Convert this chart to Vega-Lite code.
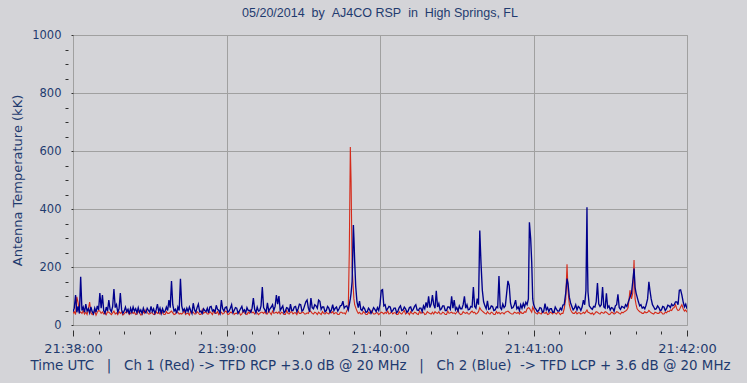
{
  "$schema": "https://vega.github.io/schema/vega-lite/v6.json",
  "width": 614,
  "height": 290,
  "autosize": {"type": "none"},
  "padding": {"left": 73, "top": 35, "right": 60, "bottom": 58},
  "background": "#d4d4d8",
  "config": {"view": {"stroke": "#a0a0a0", "fill": "#d4d4d8", "strokeWidth": 1}},
  "title": {"text": "05/20/2014\u00a0\u00a0by\u00a0\u00a0AJ4CO RSP\u00a0\u00a0in\u00a0\u00a0High Springs, FL", "font": "Liberation Sans", "fontSize": 12.5, "fontWeight": "normal", "color": "#1f3b6f", "anchor": "middle", "offset": 10},
  "data": {"values": [
{"t":0,"r":40,"b":46},{"t":0.5,"r":46,"b":58},{"t":1,"r":36,"b":103},{"t":1.5,"r":97,"b":44},{"t":2,"r":76,"b":64},{"t":2.5,"r":42,"b":40},{"t":3,"r":45,"b":166},{"t":3.5,"r":40,"b":50},{"t":4,"r":50,"b":62},{"t":4.5,"r":38,"b":44},{"t":5,"r":44,"b":72},{"t":5.5,"r":36,"b":48},{"t":6,"r":55,"b":56},{"t":6.5,"r":79,"b":42},{"t":7,"r":42,"b":62},{"t":7.5,"r":36,"b":46},{"t":8,"r":40,"b":38},{"t":8.5,"r":48,"b":58},{"t":9,"r":34,"b":44},{"t":9.5,"r":44,"b":66},
{"t":10,"r":50,"b":52},{"t":10.5,"r":48,"b":110},{"t":11,"r":40,"b":58},{"t":11.5,"r":45,"b":103},{"t":12,"r":38,"b":50},{"t":12.5,"r":42,"b":40},{"t":13,"r":36,"b":62},{"t":13.5,"r":46,"b":48},{"t":14,"r":44,"b":86},{"t":14.5,"r":40,"b":54},{"t":15,"r":36,"b":46},{"t":15.5,"r":42,"b":64},{"t":16,"r":48,"b":124},{"t":16.5,"r":38,"b":60},{"t":17,"r":42,"b":70},{"t":17.5,"r":36,"b":44},{"t":18,"r":46,"b":56},{"t":18.5,"r":40,"b":110},{"t":19,"r":45,"b":52},{"t":19.5,"r":34,"b":40},
{"t":20,"r":38,"b":48},{"t":20.5,"r":44,"b":62},{"t":21,"r":42,"b":46},{"t":21.5,"r":50,"b":54},{"t":22,"r":36,"b":38},{"t":22.5,"r":40,"b":58},{"t":23,"r":46,"b":44},{"t":23.5,"r":40,"b":62},{"t":24,"r":44,"b":48},{"t":24.5,"r":36,"b":56},{"t":25,"r":38,"b":42},{"t":25.5,"r":48,"b":60},{"t":26,"r":42,"b":44},{"t":26.5,"r":34,"b":52},{"t":27,"r":36,"b":40},{"t":27.5,"r":46,"b":58},{"t":28,"r":40,"b":46},{"t":28.5,"r":52,"b":42},{"t":29,"r":44,"b":58},{"t":29.5,"r":38,"b":50},
{"t":30,"r":38,"b":44},{"t":30.5,"r":42,"b":64},{"t":31,"r":42,"b":46},{"t":31.5,"r":36,"b":56},{"t":32,"r":36,"b":40},{"t":32.5,"r":46,"b":52},{"t":33,"r":40,"b":72},{"t":33.5,"r":44,"b":46},{"t":34,"r":38,"b":58},{"t":34.5,"r":50,"b":40},{"t":35,"r":42,"b":56},{"t":35.5,"r":36,"b":44},{"t":36,"r":36,"b":48},{"t":36.5,"r":46,"b":62},{"t":37,"r":40,"b":50},{"t":37.5,"r":40,"b":86},{"t":38,"r":44,"b":60},{"t":38.5,"r":48,"b":152},{"t":39,"r":42,"b":70},{"t":39.5,"r":36,"b":48},
{"t":40,"r":38,"b":54},{"t":40.5,"r":46,"b":40},{"t":41,"r":44,"b":62},{"t":41.5,"r":38,"b":50},{"t":42,"r":40,"b":159},{"t":42.5,"r":38,"b":66},{"t":43,"r":42,"b":48},{"t":43.5,"r":50,"b":56},{"t":44,"r":36,"b":44},{"t":44.5,"r":40,"b":58},{"t":45,"r":40,"b":46},{"t":45.5,"r":34,"b":62},{"t":46,"r":48,"b":50},{"t":46.5,"r":42,"b":40},{"t":47,"r":44,"b":75},{"t":47.5,"r":38,"b":52},{"t":48,"r":38,"b":44},{"t":48.5,"r":46,"b":60},{"t":49,"r":42,"b":72},{"t":49.5,"r":36,"b":46},
{"t":50,"r":36,"b":48},{"t":50.5,"r":52,"b":40},{"t":51,"r":40,"b":56},{"t":51.5,"r":44,"b":50},{"t":52,"r":44,"b":46},{"t":52.5,"r":38,"b":58},{"t":53,"r":38,"b":42},{"t":53.5,"r":46,"b":62},{"t":54,"r":42,"b":64},{"t":54.5,"r":36,"b":48},{"t":55,"r":50,"b":52},{"t":55.5,"r":40,"b":44},{"t":56,"r":40,"b":68},{"t":56.5,"r":46,"b":54},{"t":57,"r":36,"b":50},{"t":57.5,"r":42,"b":40},{"t":58,"r":44,"b":86},{"t":58.5,"r":38,"b":56},{"t":59,"r":40,"b":48},{"t":59.5,"r":48,"b":60},
{"t":60,"r":46,"b":62},{"t":60.5,"r":36,"b":44},{"t":61,"r":38,"b":48},{"t":61.5,"r":44,"b":58},{"t":62,"r":42,"b":70},{"t":62.5,"r":50,"b":42},{"t":63,"r":36,"b":50},{"t":63.5,"r":40,"b":60},{"t":64,"r":40,"b":58},{"t":64.5,"r":46,"b":40},{"t":65,"r":44,"b":48},{"t":65.5,"r":34,"b":56},{"t":66,"r":38,"b":64},{"t":66.5,"r":48,"b":46},{"t":67,"r":42,"b":52},{"t":67.5,"r":38,"b":42},{"t":68,"r":36,"b":60},{"t":68.5,"r":44,"b":50},{"t":69,"r":40,"b":50},{"t":69.5,"r":52,"b":44},
{"t":70,"r":42,"b":58},{"t":70.5,"r":44,"b":93},{"t":71,"r":38,"b":54},{"t":71.5,"r":46,"b":42},{"t":72,"r":42,"b":62},{"t":72.5,"r":36,"b":48},{"t":73,"r":40,"b":50},{"t":73.5,"r":44,"b":66},{"t":74,"r":44,"b":131},{"t":74.5,"r":40,"b":60},{"t":75,"r":46,"b":52},{"t":75.5,"r":38,"b":44},{"t":76,"r":38,"b":76},{"t":76.5,"r":50,"b":48},{"t":77,"r":42,"b":56},{"t":77.5,"r":36,"b":62},{"t":78,"r":48,"b":70},{"t":78.5,"r":40,"b":50},{"t":79,"r":42,"b":64},{"t":79.5,"r":44,"b":103},
{"t":80,"r":40,"b":72},{"t":80.5,"r":46,"b":100},{"t":81,"r":38,"b":50},{"t":81.5,"r":44,"b":58},{"t":82,"r":42,"b":66},{"t":82.5,"r":36,"b":42},{"t":83,"r":36,"b":48},{"t":83.5,"r":50,"b":60},{"t":84,"r":40,"b":58},{"t":84.5,"r":38,"b":44},{"t":85,"r":44,"b":72},{"t":85.5,"r":46,"b":50},{"t":86,"r":38,"b":50},{"t":86.5,"r":42,"b":62},{"t":87,"r":42,"b":64},{"t":87.5,"r":36,"b":46},{"t":88,"r":48,"b":56},{"t":88.5,"r":40,"b":72},{"t":89,"r":40,"b":70},{"t":89.5,"r":44,"b":48},
{"t":90,"r":44,"b":52},{"t":90.5,"r":38,"b":66},{"t":91,"r":38,"b":80},{"t":91.5,"r":42,"b":86},{"t":92,"r":40,"b":58},{"t":92.5,"r":50,"b":46},{"t":93,"r":46,"b":93},{"t":93.5,"r":40,"b":60},{"t":94,"r":38,"b":56},{"t":94.5,"r":44,"b":70},{"t":95,"r":42,"b":66},{"t":95.5,"r":36,"b":58},{"t":96,"r":44,"b":86},{"t":96.5,"r":40,"b":82},{"t":97,"r":36,"b":54},{"t":97.5,"r":46,"b":62},{"t":98,"r":40,"b":62},{"t":98.5,"r":38,"b":46},{"t":99,"r":44,"b":50},{"t":99.5,"r":40,"b":64},
{"t":100,"r":38,"b":58},{"t":100.5,"r":48,"b":44},{"t":101,"r":42,"b":52},{"t":101.5,"r":46,"b":70},{"t":102,"r":38,"b":50},{"t":102.5,"r":42,"b":58},{"t":103,"r":42,"b":62},{"t":103.5,"r":36,"b":48},{"t":104,"r":36,"b":56},{"t":104.5,"r":44,"b":66},{"t":105,"r":44,"b":68},{"t":105.5,"r":40,"b":82},{"t":106,"r":42,"b":58},{"t":106.5,"r":38,"b":64},{"t":107,"r":48,"b":66},{"t":107.6,"r":60,"b":52},{"t":108,"r":252,"b":70},{"t":108.4,"r":614,"b":90},{"t":108.7,"r":496,"b":110},{"t":109.1,"r":200,"b":150},
{"t":109.6,"r":120,"b":345},{"t":109.8,"r":90,"b":302},{"t":110.1,"r":70,"b":220},{"t":110.5,"r":60,"b":134},{"t":111,"r":48,"b":80},{"t":111.5,"r":40,"b":60},{"t":112,"r":44,"b":82},{"t":112.5,"r":38,"b":54},{"t":113,"r":38,"b":50},{"t":113.5,"r":46,"b":62},{"t":114,"r":42,"b":56},{"t":114.5,"r":36,"b":44},{"t":115,"r":36,"b":46},{"t":115.5,"r":44,"b":58},{"t":116,"r":40,"b":52},{"t":116.5,"r":50,"b":40},{"t":117,"r":44,"b":48},{"t":117.5,"r":38,"b":60},{"t":118,"r":38,"b":54},{"t":118.5,"r":42,"b":46},
{"t":119,"r":42,"b":60},{"t":119.5,"r":36,"b":50},{"t":120,"r":40,"b":72},{"t":120.5,"r":44,"b":119},{"t":121,"r":42,"b":122},{"t":121.5,"r":38,"b":66},{"t":122,"r":44,"b":70},{"t":122.5,"r":40,"b":50},{"t":123,"r":48,"b":56},{"t":123.5,"r":38,"b":64},{"t":124,"r":40,"b":62},{"t":124.5,"r":46,"b":46},{"t":125,"r":38,"b":50},{"t":125.5,"r":42,"b":58},{"t":126,"r":42,"b":58},{"t":126.5,"r":36,"b":42},{"t":127,"r":36,"b":48},{"t":127.5,"r":46,"b":60},{"t":128,"r":40,"b":66},{"t":128.5,"r":38,"b":50},
{"t":129,"r":44,"b":52},{"t":129.5,"r":50,"b":62},{"t":130,"r":38,"b":56},{"t":130.5,"r":42,"b":44},{"t":131,"r":42,"b":48},{"t":131.5,"r":36,"b":60},{"t":132,"r":46,"b":62},{"t":132.5,"r":40,"b":48},{"t":133,"r":38,"b":54},{"t":133.5,"r":44,"b":64},{"t":134,"r":42,"b":70},{"t":134.5,"r":38,"b":52},{"t":135,"r":36,"b":50},{"t":135.5,"r":48,"b":58},{"t":136,"r":40,"b":58},{"t":136.5,"r":44,"b":46},{"t":137,"r":44,"b":66},{"t":137.5,"r":36,"b":56},{"t":138,"r":38,"b":78},{"t":138.5,"r":46,"b":60},
{"t":139,"r":42,"b":99},{"t":139.5,"r":40,"b":60},{"t":140,"r":38,"b":72},{"t":140.5,"r":44,"b":103},{"t":141,"r":38,"b":70},{"t":141.5,"r":46,"b":58},{"t":142,"r":42,"b":118},{"t":142.5,"r":40,"b":62},{"t":143,"r":46,"b":74},{"t":143.5,"r":38,"b":52},{"t":144,"r":38,"b":56},{"t":144.5,"r":44,"b":66},{"t":145,"r":42,"b":66},{"t":145.5,"r":36,"b":50},{"t":146,"r":36,"b":50},{"t":146.5,"r":48,"b":62},{"t":147,"r":40,"b":62},{"t":147.5,"r":42,"b":54},{"t":148,"r":44,"b":99},{"t":148.5,"r":40,"b":58},
{"t":149,"r":42,"b":86},{"t":149.5,"r":38,"b":52},{"t":150,"r":44,"b":60},{"t":150.5,"r":50,"b":48},{"t":151,"r":40,"b":66},{"t":151.5,"r":36,"b":56},{"t":152,"r":38,"b":56},{"t":152.5,"r":46,"b":70},{"t":153,"r":42,"b":99},{"t":153.5,"r":40,"b":58},{"t":154,"r":44,"b":70},{"t":154.5,"r":38,"b":52},{"t":155,"r":38,"b":54},{"t":155.5,"r":44,"b":64},{"t":156,"r":48,"b":62},{"t":156.5,"r":42,"b":131},{"t":157,"r":44,"b":64},{"t":157.5,"r":38,"b":58},{"t":158,"r":40,"b":91},{"t":158.5,"r":46,"b":70},
{"t":159,"r":60,"b":326},{"t":159.5,"r":52,"b":209},{"t":160,"r":48,"b":120},{"t":160.5,"r":44,"b":80},{"t":161,"r":40,"b":66},{"t":161.5,"r":38,"b":56},{"t":162,"r":46,"b":83},{"t":162.5,"r":40,"b":54},{"t":163,"r":38,"b":56},{"t":163.5,"r":44,"b":66},{"t":164,"r":42,"b":64},{"t":164.5,"r":36,"b":50},{"t":165,"r":36,"b":52},{"t":165.5,"r":46,"b":62},{"t":166,"r":40,"b":60},{"t":166.5,"r":44,"b":169},{"t":167,"r":38,"b":60},{"t":167.5,"r":42,"b":54},{"t":168,"r":42,"b":72},{"t":168.5,"r":38,"b":60},
{"t":169,"r":44,"b":66},{"t":169.5,"r":46,"b":109},{"t":170,"r":48,"b":152},{"t":170.5,"r":44,"b":137},{"t":171,"r":40,"b":76},{"t":171.5,"r":38,"b":58},{"t":172,"r":38,"b":60},{"t":172.5,"r":44,"b":70},{"t":173,"r":42,"b":86},{"t":173.5,"r":40,"b":56},{"t":174,"r":44,"b":62},{"t":174.5,"r":38,"b":50},{"t":175,"r":46,"b":70},{"t":175.5,"r":40,"b":58},{"t":176,"r":40,"b":74},{"t":176.5,"r":46,"b":62},{"t":177,"r":44,"b":78},{"t":177.5,"r":56,"b":70},{"t":178,"r":60,"b":90},{"t":178.4,"r":58,"b":354},
{"t":178.9,"r":50,"b":297},{"t":179.3,"r":44,"b":217},{"t":179.7,"r":62,"b":90},{"t":180,"r":56,"b":72},{"t":180.5,"r":44,"b":60},{"t":181,"r":40,"b":54},{"t":181.5,"r":38,"b":46},{"t":182,"r":44,"b":50},{"t":182.5,"r":40,"b":60},{"t":183,"r":38,"b":58},{"t":183.5,"r":46,"b":44},{"t":184,"r":42,"b":48},{"t":184.5,"r":40,"b":74},{"t":185,"r":44,"b":52},{"t":185.5,"r":36,"b":60},{"t":186,"r":38,"b":46},{"t":186.5,"r":44,"b":56},{"t":187,"r":42,"b":56},{"t":187.5,"r":38,"b":44},{"t":188,"r":46,"b":44},
{"t":188.5,"r":40,"b":62},{"t":189,"r":38,"b":54},{"t":189.5,"r":44,"b":48},{"t":190,"r":42,"b":48},{"t":190.5,"r":36,"b":58},{"t":191,"r":40,"b":52},{"t":191.5,"r":40,"b":69},{"t":192,"r":56,"b":70},{"t":192.6,"r":90,"b":110},{"t":193.1,"r":209,"b":160},{"t":193.5,"r":120,"b":143},{"t":194,"r":70,"b":96},{"t":194.5,"r":52,"b":76},{"t":195,"r":44,"b":64},{"t":195.5,"r":40,"b":52},{"t":196,"r":40,"b":58},{"t":196.5,"r":46,"b":70},{"t":197,"r":38,"b":52},{"t":197.5,"r":42,"b":64},{"t":198,"r":42,"b":60},
{"t":198.5,"r":38,"b":50},{"t":199,"r":40,"b":62},{"t":199.5,"r":44,"b":86},{"t":200,"r":40,"b":70},{"t":200.5,"r":46,"b":120},{"t":200.9,"r":52,"b":406},{"t":201.1,"r":48,"b":217},{"t":201.3,"r":44,"b":114},{"t":201.8,"r":42,"b":66},{"t":202.5,"r":38,"b":58},{"t":203,"r":42,"b":54},{"t":203.5,"r":36,"b":64},{"t":204,"r":40,"b":62},{"t":204.5,"r":46,"b":80},{"t":205,"r":44,"b":145},{"t":205.5,"r":40,"b":72},{"t":206,"r":38,"b":64},{"t":206.5,"r":44,"b":70},{"t":207,"r":42,"b":131},{"t":207.5,"r":40,"b":62},
{"t":208,"r":46,"b":58},{"t":208.5,"r":44,"b":109},{"t":209,"r":40,"b":60},{"t":209.5,"r":36,"b":66},{"t":210,"r":38,"b":52},{"t":210.5,"r":44,"b":60},{"t":211,"r":42,"b":58},{"t":211.5,"r":38,"b":48},{"t":212,"r":40,"b":66},{"t":212.5,"r":46,"b":70},{"t":213,"r":44,"b":106},{"t":213.5,"r":40,"b":60},{"t":214,"r":38,"b":54},{"t":214.5,"r":44,"b":64},{"t":215,"r":42,"b":62},{"t":215.5,"r":46,"b":58},{"t":216,"r":48,"b":70},{"t":216.5,"r":52,"b":64},{"t":217,"r":60,"b":78},{"t":217.7,"r":120,"b":96},
{"t":218.3,"r":90,"b":110},{"t":218.8,"r":110,"b":150},{"t":219.3,"r":224,"b":195},{"t":219.7,"r":90,"b":130},{"t":220.1,"r":70,"b":110},{"t":220.5,"r":56,"b":97},{"t":221,"r":50,"b":80},{"t":221.5,"r":46,"b":66},{"t":222,"r":44,"b":70},{"t":222.5,"r":40,"b":58},{"t":223,"r":40,"b":62},{"t":223.5,"r":46,"b":56},{"t":224,"r":42,"b":68},{"t":224.6,"r":44,"b":90},{"t":225.1,"r":50,"b":149},{"t":225.5,"r":46,"b":120},{"t":226,"r":42,"b":90},{"t":226.5,"r":40,"b":70},{"t":227,"r":38,"b":62},{"t":227.5,"r":44,"b":54},
{"t":228,"r":42,"b":56},{"t":228.5,"r":40,"b":66},{"t":229,"r":40,"b":60},{"t":229.5,"r":46,"b":50},{"t":230,"r":44,"b":52},{"t":230.5,"r":38,"b":64},{"t":231,"r":38,"b":62},{"t":231.5,"r":44,"b":50},{"t":232,"r":42,"b":56},{"t":232.5,"r":48,"b":68},{"t":233,"r":46,"b":66},{"t":233.5,"r":52,"b":60},{"t":234,"r":50,"b":72},{"t":234.5,"r":58,"b":66},{"t":235,"r":60,"b":70},{"t":235.5,"r":70,"b":80},{"t":236,"r":56,"b":80},{"t":236.5,"r":50,"b":70},{"t":237,"r":52,"b":120},{"t":237.5,"r":62,"b":121},
{"t":238,"r":70,"b":103},{"t":238.5,"r":56,"b":80},{"t":239,"r":48,"b":63},{"t":239.5,"r":52,"b":72},{"t":240,"r":44,"b":56}
  ]},
  "encoding": {
    "x": {
      "field": "t", "type": "quantitative",
      "scale": {"domain": [0, 240], "nice": false, "zero": false},
      "axis": {
        "values": [0,10,20,30,40,50,60,70,80,90,100,110,120,130,140,150,160,170,180,190,200,210,220,230,240],
        "labelExpr": "datum.value % 60 === 0 ? '21:' + (38 + datum.value / 60) + ':00' : ''",
        "labelOverlap": false, "labelFlush": false,
        "domain": false,
        "grid": true, "gridColor": "#a0a0a0",
        "gridOpacity": {"condition": {"test": "datum.value % 60 === 0", "value": 1}, "value": 0},
        "tickSize": 11, "tickColor": "#303030", "tickWidth": 1,
        "tickDash": {"condition": {"test": "datum.value % 60 === 0", "value": [0, 5, 6, 100]}, "value": [0, 6, 3, 100]},
        "labelPadding": 6, "labelFont": "DejaVu Sans", "labelFontSize": 13, "labelColor": "#1f3b6f",
        "title": "Time UTC\u00a0\u00a0\u00a0|\u00a0\u00a0\u00a0Ch 1 (Red) -> TFD RCP +3.0 dB @ 20 MHz\u00a0\u00a0\u00a0|\u00a0\u00a0\u00a0Ch 2 (Blue)\u00a0\u00a0-> TFD LCP + 3.6 dB @ 20 MHz",
        "titleFont": "DejaVu Sans", "titleFontSize": 13.4, "titleFontWeight": "normal", "titleColor": "#1f3b6f", "titlePadding": 3
      }
    }
  },
  "layer": [
    {
      "mark": {"type": "line", "color": "#d42a1a", "strokeWidth": 1.1, "clip": true},
      "encoding": {
        "y": {
          "field": "r", "type": "quantitative",
          "scale": {"domain": [0, 1000], "nice": false},
          "axis": {
            "values": [0,50,100,150,200,250,300,350,400,450,500,550,600,650,700,750,800,850,900,950,1000],
            "labelExpr": "datum.value % 200 === 0 ? '' + datum.value : ''",
            "labelOverlap": false, "labelFlush": false,
            "domain": false,
            "grid": true, "gridColor": "#a0a0a0",
            "gridOpacity": {"condition": {"test": "datum.value % 200 === 0", "value": 1}, "value": 0},
            "tickSize": 8, "tickColor": "#303030", "tickWidth": 1,
            "tickDash": {"condition": {"test": "datum.value % 200 === 0", "value": [2, 100]}, "value": [0, 5, 3, 100]},
            "labelPadding": 4, "labelFont": "DejaVu Sans", "labelFontSize": 11.5, "labelColor": "#1f3b6f",
            "title": "Antenna Temperature (kK)",
            "titleFont": "DejaVu Sans", "titleFontSize": 13, "titleFontWeight": "normal", "titleColor": "#1f3b6f", "titlePadding": 7
          }
        }
      }
    },
    {
      "mark": {"type": "line", "color": "#00008c", "strokeWidth": 1.35, "clip": true},
      "encoding": {
        "y": {
          "field": "b", "type": "quantitative",
          "scale": {"domain": [0, 1000], "nice": false},
          "axis": {
            "values": [0,50,100,150,200,250,300,350,400,450,500,550,600,650,700,750,800,850,900,950,1000],
            "labelExpr": "datum.value % 200 === 0 ? '' + datum.value : ''",
            "labelOverlap": false, "labelFlush": false,
            "domain": false,
            "grid": true, "gridColor": "#a0a0a0",
            "gridOpacity": {"condition": {"test": "datum.value % 200 === 0", "value": 1}, "value": 0},
            "tickSize": 8, "tickColor": "#303030", "tickWidth": 1,
            "tickDash": {"condition": {"test": "datum.value % 200 === 0", "value": [2, 100]}, "value": [0, 5, 3, 100]},
            "labelPadding": 4, "labelFont": "DejaVu Sans", "labelFontSize": 11.5, "labelColor": "#1f3b6f",
            "title": "Antenna Temperature (kK)",
            "titleFont": "DejaVu Sans", "titleFontSize": 13, "titleFontWeight": "normal", "titleColor": "#1f3b6f", "titlePadding": 7
          }
        }
      }
    }
  ]
}
